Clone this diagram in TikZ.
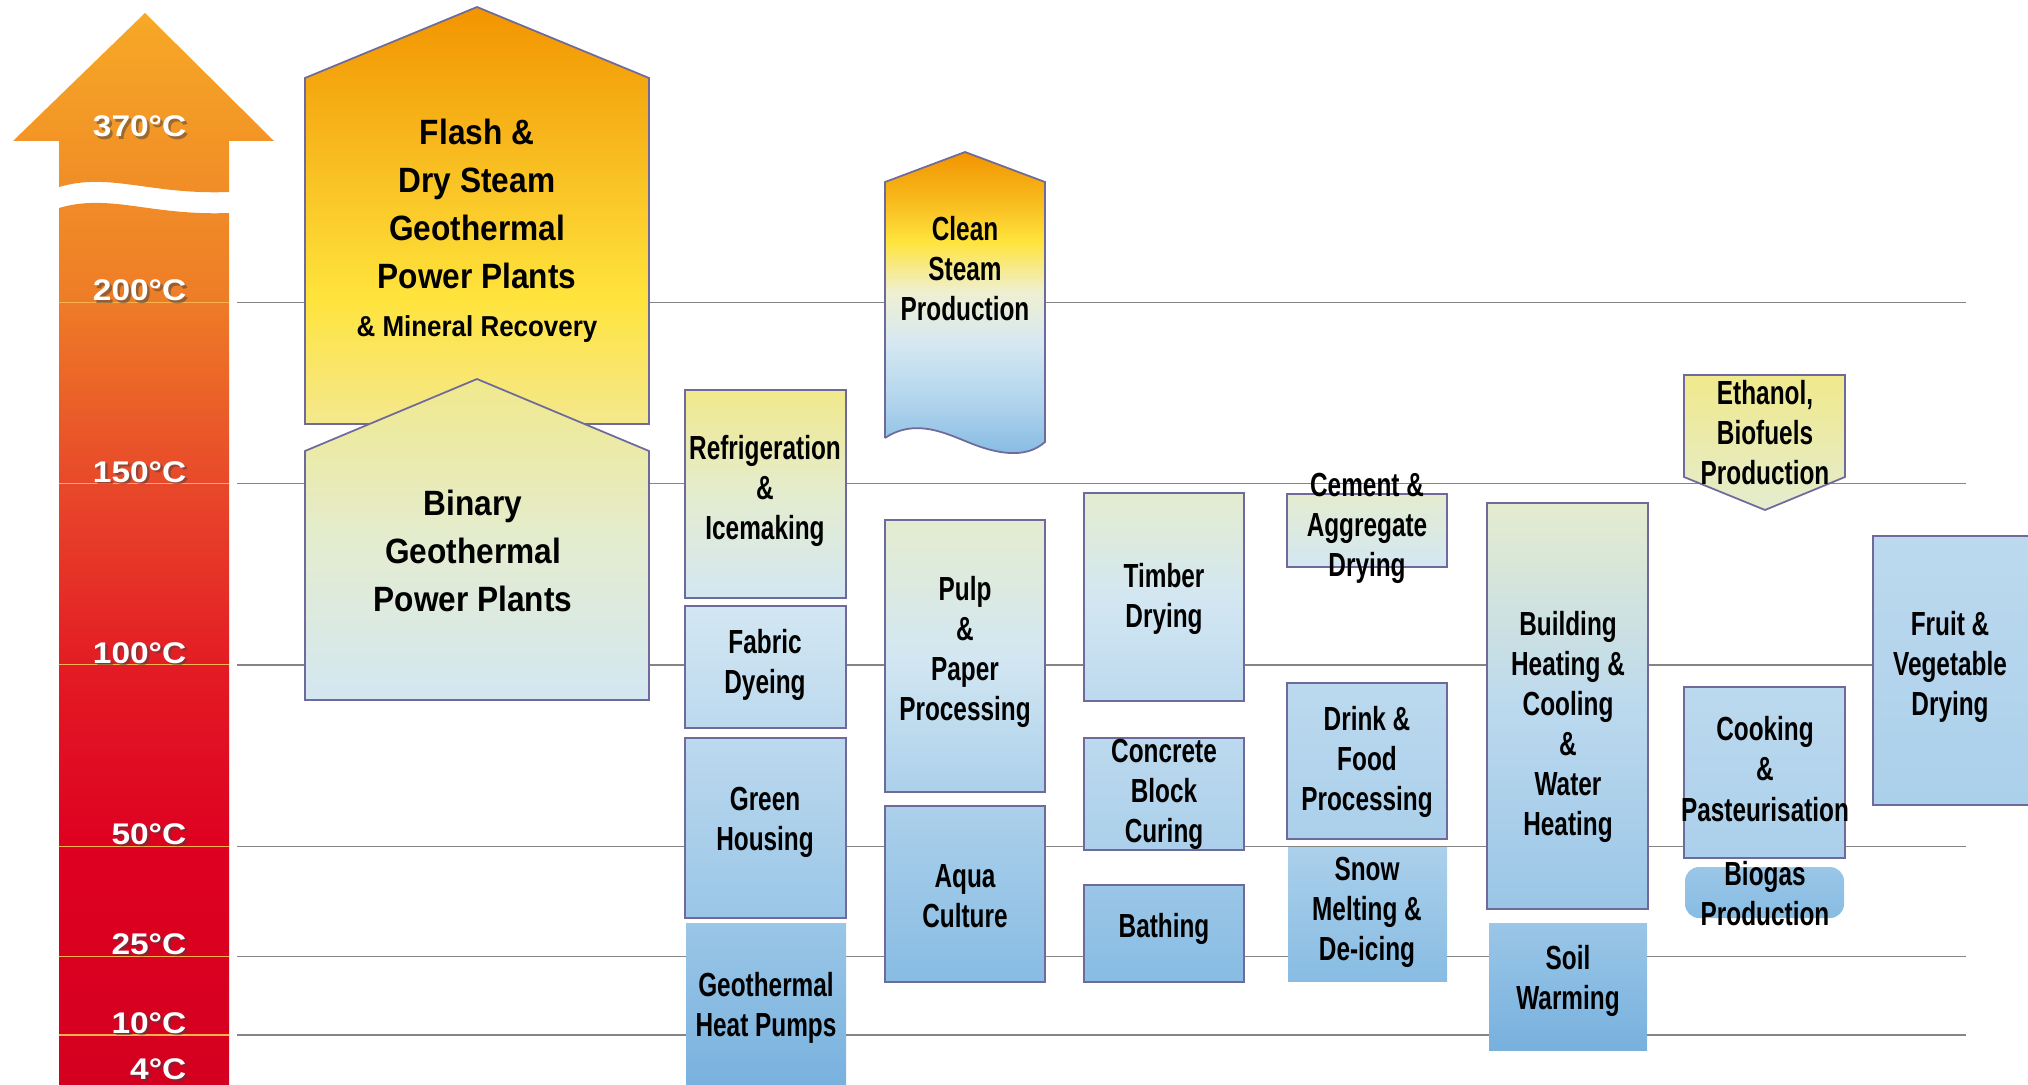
\documentclass[tikz,border=0pt]{standalone}
\usepackage{fontspec}
\setmainfont{Liberation Sans}
\newfontfamily\narrowsf[FakeStretch=0.73]{Liberation Sans}
\newfontfamily\plantsf[FakeStretch=0.9]{Liberation Sans}
\newfontfamily\widesf[FakeStretch=1.12]{Liberation Sans}

\definecolor{edge}{HTML}{6F6A9C}
\definecolor{lvl}{HTML}{858585}
\definecolor{tick}{HTML}{F9B24C}
\definecolor{orng}{HTML}{F29400}
\definecolor{yell}{HTML}{FFE43C}
\definecolor{flA}{HTML}{F4E88E}
\definecolor{flB}{HTML}{F7B61B}
\definecolor{yl}{HTML}{F0E98C}
\definecolor{gr}{HTML}{E4ECCF}
\definecolor{bA}{HTML}{D3E7F2}
\definecolor{bB}{HTML}{BCD9EE}
\definecolor{bC}{HTML}{ABD0EB}
\definecolor{bD}{HTML}{9AC6E7}
\definecolor{bE}{HTML}{88BCE3}
\definecolor{bF}{HTML}{78B1DE}
\definecolor{thA}{HTML}{D4001F}
\definecolor{thB}{HTML}{DE0021}
\definecolor{thC}{HTML}{E31B24}
\definecolor{thD}{HTML}{E8492A}
\definecolor{thE}{HTML}{EE7C27}
\definecolor{thF}{HTML}{F6A926}
\definecolor{stA}{HTML}{F8BB1E}
\definecolor{stB}{HTML}{EFF0D2}
\definecolor{stC}{HTML}{D5E8F2}
\definecolor{stD}{HTML}{AFD3EC}
\definecolor{stE}{HTML}{82B8E2}

\pgfdeclareverticalshading{thermo}{100bp}{color(0bp)=(thA); color(25bp)=(thA); color(36bp)=(thB); color(44.6bp)=(thC); color(53.2bp)=(thD); color(61.6bp)=(thE); color(75bp)=(thF); color(100bp)=(thF)}
\pgfdeclareverticalshading{flashsh}{100bp}{color(0bp)=(flA); color(25bp)=(flA); color(40bp)=(yell); color(59.7bp)=(flB); color(75bp)=(orng); color(100bp)=(orng)}
\pgfdeclareverticalshading{steamsh}{100bp}{color(0bp)=(stE); color(25bp)=(stE); color(34bp)=(stD); color(44bp)=(stC); color(52.2bp)=(stB); color(60.5bp)=(yell); color(67bp)=(stA); color(75bp)=(orng); color(100bp)=(orng)}

\begin{document}
\begin{tikzpicture}[x=0.1mm,y=-0.1mm,
    box/.style={draw=edge,line width=0.5pt},
    appl/.style={font=\narrowsf\bfseries\fontsize{9.5}{11.4}\selectfont,align=center,inner sep=0pt},
    plant/.style={font=\plantsf\bfseries\fontsize{10}{13.66}\selectfont,align=center,inner sep=0pt},
    temp/.style={anchor=base east,font=\widesf\bfseries\fontsize{8.5}{10}\selectfont,text=white,inner sep=0pt},
    tline/.style={draw=lvl,line width=0.45pt}]
  \useasboundingbox (0,0) rectangle (2028,1085);

  \path[shade,shading=thermo] (59,141) -- (13,141) -- (145,13) -- (274,141) -- (229,141) -- (229,192)
      .. controls (150,195) and (110,172) .. (59,187) -- cycle
    (59,208) .. controls (110,193) and (150,216) .. (229,213) -- (229,1090) -- (59,1090) -- cycle;
  \foreach \ly in {302.7,483.7,664.8,846.3,956.3,1035} {
    \draw[tick,line width=0.35pt] (59,\ly) -- (229,\ly);
    \draw[tline] (237,\ly) -- (1966,\ly);
  }
  \foreach \ly/\lt in {137/370,301/200,482/150,663/100,844/50,954/25,1033/10,1079/4} {
    \node[temp,text=black!75,opacity=0.5] (s\lt) at (189.5,\ly+2.5) {\lt°C};
    \node[temp] (t\lt) at (187,\ly) {\lt°C};
  }

  \path[box,shade,shading=flashsh] (305,424) -- (305,78) -- (477,7) -- (649,78) -- (649,424) -- cycle;
  \path[box,top color=yl,bottom color=bA,middle color=gr] (305,700) -- (305,451) -- (477,379) -- (649,451) -- (649,700) -- cycle;
  \node[plant] (flash) at (477,231) {Flash \&\\Dry Steam\\Geothermal\\Power Plants\\{\fontsize{8.2}{13.66}\selectfont\& Mineral Recovery}};
  \node[plant] (binary) at (473,551) {Binary\\Geothermal\\Power Plants};

  \path[box,top color=yl,bottom color=bA,middle color=gr] (685,390) rectangle (846,598);
  \path[box,top color=bA,bottom color=bB] (685,606) rectangle (846,728);
  \path[box,top color=bB,bottom color=bD] (685,738) rectangle (846,918);
  \path[top color=bD,bottom color=bF] (686,923) rectangle (846,1090);
  \node[appl] (refrig) at (765,491) {Refrigeration\\\&\\Icemaking};
  \node[appl] (fabric) at (765,665) {Fabric\\Dyeing};
  \node[appl] (green) at (765,822) {Green\\Housing};
  \node[appl] (pumps) at (766,1008) {Geothermal\\Heat Pumps};

  \path[box,shade,shading=steamsh] (885,438) -- (885,182) -- (965,152) -- (1045,182) -- (1045,442)
      .. controls (1025,460) and (995,453) .. (970,443) .. controls (945,433) and (915,418) .. (885,438);
  \path[box,top color=gr,bottom color=bC,middle color=bA] (885,520) rectangle (1045,792);
  \path[box,top color=bC,bottom color=bE] (885,806) rectangle (1045,982);
  \node[appl] (steam) at (965,269) {Clean\\Steam\\Production};
  \node[appl] (pulp) at (965,652) {Pulp\\\&\\Paper\\Processing};
  \node[appl] (aqua) at (965,896) {Aqua\\Culture};

  \path[box,top color=gr,bottom color=bB,middle color=bA] (1084,493) rectangle (1244,701);
  \path[box,top color=bB,bottom color=bC] (1084,738) rectangle (1244,850);
  \path[box,top color=bD,bottom color=bE] (1084,885) rectangle (1244,982);
  \node[appl] (timber) at (1164,599) {Timber\\Drying};
  \node[appl] (concrete) at (1164,794) {Concrete\\Block\\Curing};
  \node[appl] (bathing) at (1164,929) {Bathing};

  \path[box,top color=gr,bottom color=bA] (1287,494) rectangle (1447,567);
  \path[box,top color=bB,bottom color=bC] (1287,683) rectangle (1447,839);
  \path[top color=bC,bottom color=bE] (1288,847) rectangle (1447,981);
  \node[appl] (cement) at (1367,528) {Cement \&\\Aggregate\\Drying};
  \node[appl] (drink) at (1367,762) {Drink \&\\Food\\Processing};
  \node[appl] (snow) at (1367,912) {Snow\\Melting \&\\De-icing};

  \path[box,top color=gr,bottom color=bD,middle color=bB] (1487,503) rectangle (1648,909);
  \path[top color=bD,bottom color=bF] (1489,923) rectangle (1647,1050);
  \node[appl] (building) at (1568,727) {Building\\Heating \&\\Cooling\\\&\\Water\\Heating};
  \node[appl] (soil) at (1568,981) {Soil\\Warming};

  \path[box,top color=yl,bottom color=gr] (1684,375) -- (1845,375) -- (1845,477) -- (1765,510) -- (1684,477) -- cycle;
  \path[box,top color=bB,bottom color=bC] (1684,687) rectangle (1845,858);
  \path[rounded corners=4,top color=bD,bottom color=bE] (1685,867) rectangle (1844,918);
  \node[appl] (ethanol) at (1765,433) {Ethanol,\\Biofuels\\Production};
  \node[appl] (cooking) at (1765,769) {Cooking\\\&\\Pasteurisation};
  \node[appl] (biogas) at (1765,894) {Biogas\\Production};

  \path[box,top color=bB,bottom color=bC] (1873,536) rectangle (2040,805);
  \node[appl] (fruit) at (1950,667) {Fruit \&\\Vegetable\\Drying};
\end{tikzpicture}
\end{document}
